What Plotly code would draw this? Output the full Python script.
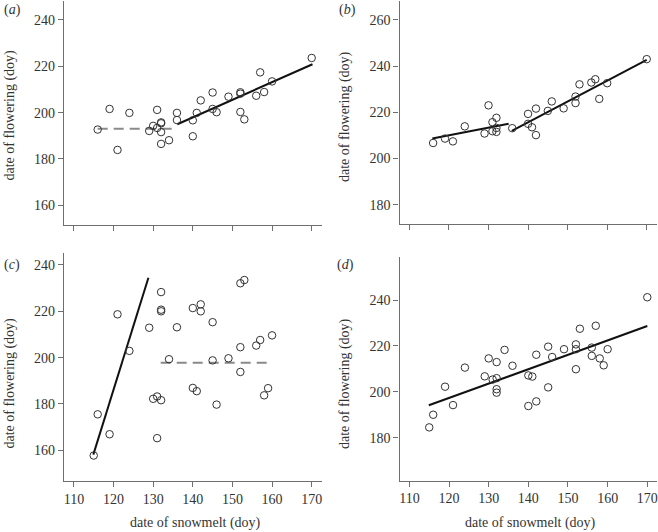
import plotly.graph_objects as go

# ---------------- data ----------------
# panel (a)
a_x = [116, 119, 121, 124, 129, 130, 131, 131, 132, 132, 132, 132, 134, 136, 136, 140, 140,
       141, 142, 145, 145, 146, 149, 152, 152, 152, 153, 156, 157, 158, 160, 170]
a_y = [192.7, 201.6, 183.9, 199.9, 192.1, 194.3, 201.2, 193.4, 195.8, 195.4, 191.6, 186.5,
       188.1, 199.9, 196.8, 196.7, 189.8, 199.9, 205.3, 208.7, 201.6, 200.2, 206.9, 208.8,
       208.2, 200.3, 197.1, 207.3, 217.4, 208.9, 213.5, 223.6]
a_dash_x = [116, 135.7]
a_dash_y = [193.0, 193.0]
a_fit_x = [136.1, 170.2]
a_fit_y = [195.0, 220.9]

# panel (b)
b_x = [116, 119, 121, 124, 129, 130, 131, 131, 132, 132, 132, 136, 140, 140, 141, 142, 142,
       145, 146, 149, 152, 152, 153, 156, 157, 158, 160, 170]
b_y = [206.7, 208.6, 207.4, 213.9, 210.8, 223.0, 215.7, 211.8, 217.6, 213.2, 211.5, 213.1,
       219.3, 215.0, 213.5, 221.6, 210.1, 220.6, 224.7, 221.7, 226.8, 224.0, 232.1, 232.9,
       234.3, 225.8, 232.6, 243.0]
b_fit1_x = [115.8, 135.1]
b_fit1_y = [208.6, 215.0]
b_fit2_x = [135.9, 170.0]
b_fit2_y = [211.9, 242.7]

# panel (c)
c_x = [115, 116, 119, 121, 124, 129, 130, 131, 131, 132, 132, 132, 132, 134, 136, 140, 140,
       141, 142, 142, 145, 145, 146, 149, 152, 152, 152, 153, 156, 157, 158, 159, 160]
c_y = [157.7, 175.5, 166.9, 218.7, 202.9, 212.9, 182.2, 183.2, 165.2, 228.3, 220.7, 220.0,
       181.6, 199.3, 213.1, 221.4, 186.9, 185.5, 223.0, 220.0, 215.3, 198.8, 179.7, 199.7,
       232.1, 204.5, 193.8, 233.5, 205.2, 207.6, 183.7, 186.8, 209.6]
c_fit_x = [114.9, 128.8]
c_fit_y = [158.1, 234.5]
c_dash_x = [131.9, 159.9]
c_dash_y = [197.8, 197.8]

# panel (d)
d_x = [115, 116, 119, 121, 124, 129, 130, 131, 132, 132, 132, 132, 134, 136, 140, 141, 140,
       142, 142, 145, 145, 146, 149, 152, 152, 152, 153, 156, 156, 157, 158, 159, 160, 170]
d_y = [184.6, 190.1, 202.3, 194.3, 210.6, 206.8, 214.6, 205.4, 206.0, 213.0, 201.2, 199.7,
       218.3, 211.4, 207.2, 206.7, 193.9, 216.2, 195.9, 219.7, 202.0, 215.2, 218.6, 220.7,
       218.6, 209.9, 227.5, 219.3, 215.7, 228.8, 214.6, 211.6, 218.6, 241.2]
d_fit_x = [114.9, 170.0]
d_fit_y = [194.2, 228.7]

x_ticks = [110, 120, 130, 140, 150, 160, 170]
a_yticks = [160, 180, 200, 220, 240]
b_yticks = [180, 200, 220, 240, 260]
c_yticks = [160, 180, 200, 220, 240]
d_yticks = [180, 200, 220, 240]

# ---------------- figure ----------------
W, H = 658, 532
FONT = "Liberation Serif"
PT_COL = "#333333"
AX_COL = "#6e6e6e"

fig = go.Figure()

def pts(x, y, n):
    sfx = "" if n == 1 else str(n)
    fig.add_trace(go.Scatter(x=x, y=y, mode="markers", xaxis="x" + sfx, yaxis="y" + sfx,
                             marker=dict(symbol="circle-open", size=7.5, color=PT_COL,
                                         line=dict(width=1, color=PT_COL)),
                             showlegend=False, hoverinfo="skip"))

def line(x, y, n, dashed=False):
    sfx = "" if n == 1 else str(n)
    if dashed:
        ln = dict(color="#8a8a8a", width=2, dash="10px,6px")
    else:
        ln = dict(color="#111111", width=2)
    fig.add_trace(go.Scatter(x=x, y=y, mode="lines", xaxis="x" + sfx, yaxis="y" + sfx,
                             line=ln, showlegend=False, hoverinfo="skip"))

line(a_dash_x, a_dash_y, 1, dashed=True)
line(a_fit_x, a_fit_y, 1)
pts(a_x, a_y, 1)

line(b_fit1_x, b_fit1_y, 2)
line(b_fit2_x, b_fit2_y, 2)
pts(b_x, b_y, 2)

line(c_fit_x, c_fit_y, 3)
line(c_dash_x, c_dash_y, 3, dashed=True)
pts(c_x, c_y, 3)

line(d_fit_x, d_fit_y, 4)
pts(d_x, d_y, 4)

def px(v):
    return v / W

def py(v):
    return 1 - v / H

def xaxis(dom, rng, anchor, labels):
    return dict(domain=dom, range=rng, anchor=anchor, showgrid=False, zeroline=False,
                showline=True, linecolor=AX_COL, linewidth=1.3, ticks="outside", ticklen=5,
                tickwidth=1.2, tickcolor=AX_COL, tickvals=x_ticks, showticklabels=labels,
                tickfont=dict(family=FONT, size=14, color="#333333"))

def yaxis(dom, rng, anchor, tv):
    return dict(domain=dom, range=rng, anchor=anchor, showgrid=False, zeroline=False,
                showline=True, linecolor=AX_COL, linewidth=1.3, ticks="outside", ticklen=5,
                tickwidth=1.2, tickcolor=AX_COL, tickvals=tv,
                tickfont=dict(family=FONT, size=14, color="#333333"))

ax_dom_left = [px(64), px(322)]
ax_dom_right = [px(399.5), px(657)]

layout = dict(
    width=W, height=H, margin=dict(l=0, r=0, t=0, b=0),
    paper_bgcolor="white", plot_bgcolor="white",
    xaxis=xaxis(ax_dom_left, [107.5, 172.6], "y", False),
    yaxis=yaxis([py(225), py(1)], [151.5, 248.2], "x", a_yticks),
    xaxis2=xaxis(ax_dom_right, [107.5, 172.6], "y2", False),
    yaxis2=yaxis([py(224), py(1)], [171.6, 268.2], "x2", b_yticks),
    xaxis3=xaxis(ax_dom_left, [107.5, 172.6], "y3", True),
    yaxis3=yaxis([py(481), py(253.3)], [146.7, 245.05], "x3", c_yticks),
    xaxis4=xaxis(ax_dom_right, [107.5, 172.45], "y4", True),
    yaxis4=yaxis([py(480.5), py(257)], [161.5, 258.7], "x4", d_yticks),
)
fig.update_layout(**layout)

ann = []
tf = dict(family=FONT, size=14, color="#333333")
# panel labels
for lab, x, y in [("a", 2, 10), ("b", 337, 10), ("c", 2, 265), ("d", 335, 265)]:
    ann.append(dict(text="(<i>%s</i>)" % lab, x=px(x), y=py(y), xref="paper", yref="paper",
                    xanchor="left", yanchor="middle", showarrow=False, font=tf))
# y titles
for x, y in [(9.5, 115), (345, 117), (9.5, 383), (345, 384)]:
    ann.append(dict(text="date of flowering (doy)", x=px(x), y=py(y), xref="paper",
                    yref="paper", xanchor="center", yanchor="middle", textangle=-90,
                    showarrow=False, font=tf))
# x titles
for x in [195, 530]:
    ann.append(dict(text="date of snowmelt (doy)", x=px(x), y=py(523), xref="paper",
                    yref="paper", xanchor="center", yanchor="middle", showarrow=False,
                    font=tf))
fig.update_layout(annotations=ann)

fig.write_html("out.html", config={"displayModeBar": False},
               post_script="document.body.style.margin='0';document.body.style.overflow='hidden';")
